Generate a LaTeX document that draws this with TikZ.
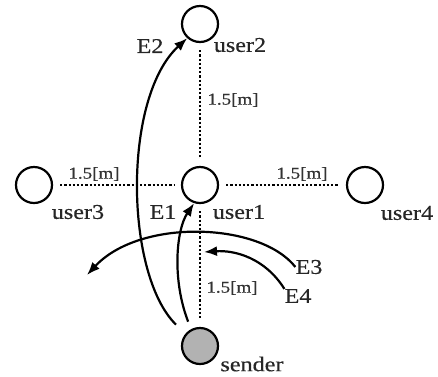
\documentclass[tikz,border=0pt]{standalone}
\usepackage{fontspec}
\setmainfont[FakeStretch=1.15,FakeBold=0.4]{Liberation Serif}
\usetikzlibrary{arrows.meta,positioning}

\begin{document}
\begin{tikzpicture}[
    x=1pt, y=-1pt,
    >={Latex[length=13pt,width=10pt]},
    user/.style={draw, circle, line width=2.2pt, minimum size=36pt, inner sep=0pt},
    lbl/.style={text=black!85, font=\fontsize{21}{21}\selectfont, inner sep=0pt},
    dist/.style={text=black!80, font=\fontsize{16.5}{16.5}\selectfont, inner sep=0pt},
    gap/.style={dotted, line width=2.2pt, shorten <=7pt, shorten >=7pt},
    sig/.style={->, line width=2.2pt}
]
\useasboundingbox (0,0) rectangle (438,376);

% users and sender
\node[user] (u2) at (200,24) {};
\node[user] (u1) at (200,185) {};
\node[user] (u3) at (34,185) {};
\node[user] (u4) at (365,185) {};
\node[user, fill=gray!60] (snd) at (200,346) {};

\node[lbl] (u2lbl) at (240,45) {user2};
\node[lbl] (u1lbl) at (239,212) {user1};
\node[lbl] (u3lbl) at (78,212) {user3};
\node[lbl] (u4lbl) at (407,213) {user4};
\node[lbl] (sndlbl) at (252,364) {sender};

% distances
\draw[gap] (u2) -- (u1);
\draw[gap] (u3) -- (u1);
\draw[gap] (u1) -- (u4);
\draw[gap] (u1) -- (snd);
\node[dist] (d12) at (233,100) {1.5[m]};
\node[dist] (d13) at (94,174) {1.5[m]};
\node[dist] (d14) at (302,174) {1.5[m]};
\node[dist] (d1s) at (232,288) {1.5[m]};

% paths
\node[lbl] (e1) at (163,212) {E1};
\node[lbl] (e2) at (150,46) {E2};
\node[lbl] (e3) at (309,267) {E3};
\node[lbl] (e4) at (298,296) {E4};
\coordinate (e3end) at (87,275);
\coordinate (e4end) at (204,252);

\draw[sig, shorten <=13pt] (snd.140) .. controls (125,275) and (122,98) .. (u2.228);
\draw[sig, shorten <=8pt] (snd.118) .. controls (172,280) and (176,230) .. (u1.252);
\draw[sig] (e3.west) .. controls (260,222) and (140,218) .. (e3end);
\draw[sig] (e4.north west) .. controls (265,258) and (235,250) .. (e4end);
\end{tikzpicture}
\end{document}
